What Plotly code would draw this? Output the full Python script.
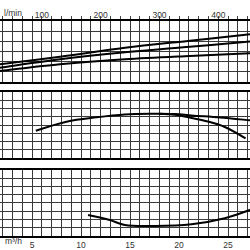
import plotly.graph_objects as go

# ---- data ----
# top panel: three rising curves (x in m3/h, y in grid units 0..6)
top_q = [1.0, 1.72, 7.85, 14.48, 21.1, 27.23, 28.0]
top_a = [1.65, 1.74, 2.49, 3.37, 4.06, 4.69, 4.77]
top_b = [1.32, 1.41, 2.23, 2.92, 3.47, 3.98, 4.05]
top_c = [1.00, 1.08, 1.74, 2.23, 2.56, 2.82, 2.86]

# middle panel (grid units 0..8)
mid_main_q = [5.38, 8.51, 11.57, 14.46, 17.0, 19.56, 21.27, 24.15, 27.21, 28.0]
mid_main_y = [3.30, 4.41, 4.94, 5.29, 5.38, 5.35, 5.17, 4.92, 4.58, 4.49]
mid_low_q = [18.0, 19.56, 21.27, 22.93, 24.66, 26.78]
mid_low_y = [5.37, 5.25, 4.86, 4.43, 3.76, 2.37]

# bottom panel (grid units 0..8)
bot_q = [10.71, 12.93, 14.46, 17.52, 21.27, 24.66, 27.21, 28.0]
bot_y = [2.52, 1.91, 1.30, 1.18, 1.39, 2.12, 3.13, 3.5]

# tick labels
q_ticks = [5, 10, 15, 20, 25]
lmin_ticks = [100, 200, 300, 400]

X_RANGE = [1.7245, 27.235]
LMIN_RANGE = [X_RANGE[0] * 1000 / 60, X_RANGE[1] * 1000 / 60]

FONT = dict(family="Liberation Sans, Arial, sans-serif", size=8.5, color="#333")
GRID = "#3a3a3a"

fig = go.Figure()

def add(q, y, xa, ya):
    fig.add_trace(go.Scatter(x=q, y=y, xaxis=xa, yaxis=ya, mode="lines",
                             line=dict(color="black", width=2, shape="spline"),
                             showlegend=False, hoverinfo="skip"))

for s in (top_a, top_b, top_c):
    add(top_q, s, "x", "y")
add(mid_main_q, mid_main_y, "x2", "y2")
add(mid_low_q, mid_low_y, "x2", "y2")
add(bot_q, bot_y, "x3", "y3")
# invisible helper so the l/min axis is drawn
fig.add_trace(go.Scatter(x=[lmin_ticks[0]], y=[0], xaxis="x4", yaxis="y",
                         mode="markers", marker=dict(opacity=0),
                         showlegend=False, hoverinfo="skip"))

H = 250.0
def dom(top_px, bot_px):
    return [1 - bot_px / H, 1 - top_px / H]

xcommon = dict(range=X_RANGE, showgrid=True, gridcolor=GRID, gridwidth=1,
               zeroline=False, showline=True, mirror=True, linecolor="black",
               linewidth=2, tick0=0, dtick=1, fixedrange=True)
ycommon = dict(showgrid=True, gridcolor=GRID, gridwidth=1, zeroline=False,
               showline=False, showticklabels=False, ticks="", dtick=1,
               fixedrange=True)

fig.update_layout(
    width=250, height=250,
    margin=dict(l=0, r=0, t=0, b=0),
    paper_bgcolor="white", plot_bgcolor="white",
    font=FONT,
    xaxis=dict(**xcommon, anchor="y", side="top", showticklabels=False,
               ticks="outside", ticklen=3, tickcolor="#444", tickwidth=1),
    yaxis=dict(**ycommon, domain=dom(21, 82), range=[0, 6], anchor="x"),
    xaxis2=dict(**xcommon, anchor="y2", showticklabels=False, ticks=""),
    yaxis2=dict(**ycommon, domain=dom(92.3, 157.7), range=[0, 8], anchor="x2"),
    xaxis3=dict(**{k: v for k, v in xcommon.items() if k not in ("tick0", "dtick")},
                anchor="y3", tickmode="array",
                tickvals=list(range(2, 28)),
                ticktext=[str(v) if v in q_ticks else "" for v in range(2, 28)],
                ticks="", tickfont=FONT),
    yaxis3=dict(**ycommon, domain=dom(170, 235.7), range=[0, 8], anchor="x3"),
    xaxis4=dict(range=LMIN_RANGE, overlaying="x", anchor="y", side="top",
                tickmode="array", tickvals=lmin_ticks,
                ticktext=[str(v) for v in lmin_ticks], showgrid=False,
                zeroline=False, showline=False, ticks="", tickfont=FONT,
                fixedrange=True),
    annotations=[
        dict(text="l/min", x=13 / H, y=1 - 13 / H, xref="paper", yref="paper",
             showarrow=False, font=FONT, xanchor="center", yanchor="middle"),
        dict(text="m³/h", x=13 / H, y=1 - 241 / H, xref="paper", yref="paper",
             showarrow=False, font=FONT, xanchor="center", yanchor="middle"),
    ],
)

fig.write_html("out.html", config={"displayModeBar": False})
